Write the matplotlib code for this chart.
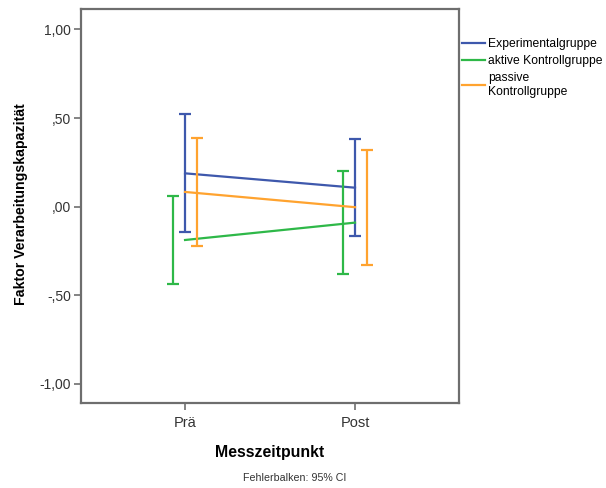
import matplotlib.pyplot as plt
from matplotlib.lines import Line2D

plt.rcParams['font.family'] = ['Liberation Sans', 'DejaVu Sans']

# Werte (Mittelwert und 95%-KI) je Gruppe und Messzeitpunkt
zeitpunkte = ['Prä', 'Post']
gruppen = ['Experimentalgruppe', 'aktive Kontrollgruppe', 'passive\nKontrollgruppe']
farben = ['#3e58ac', '#2eb848', '#ffa32f']

mittel_exp = [0.188, 0.107]
ci_unten_exp = [-0.144, -0.165]
ci_oben_exp = [0.524, 0.382]

mittel_aktiv = [-0.188, -0.090]
ci_unten_aktiv = [-0.438, -0.380]
ci_oben_aktiv = [0.061, 0.203]

mittel_passiv = [0.083, -0.003]
ci_unten_passiv = [-0.223, -0.327]
ci_oben_passiv = [0.389, 0.320]

y_ticks = [1.0, 0.5, 0.0, -0.5, -1.0]
y_ticklabels = ['1,00', ',50', ',00', '-,50', '-1,00']

mittel = [mittel_exp, mittel_aktiv, mittel_passiv]
ci_unten = [ci_unten_exp, ci_unten_aktiv, ci_unten_passiv]
ci_oben = [ci_oben_exp, ci_oben_aktiv, ci_oben_passiv]

fig = plt.figure(figsize=(6.06, 4.88), dpi=100)
ax = fig.add_axes([0.1337, 0.1736, 0.6238, 0.808])

x = list(range(len(zeitpunkte)))
versatz = [0.0, -0.073, 0.073]  # Fehlerbalken leicht nebeneinander

for i, gruppe in enumerate(gruppen):
    # Linie verbindet die Mittelwerte in der Kategoriemitte
    ax.plot(x, mittel[i], color=farben[i], linewidth=1.6, zorder=3)
    xs = [p + versatz[i] for p in x]
    err_unten = [m - u for m, u in zip(mittel[i], ci_unten[i])]
    err_oben = [o - m for m, o in zip(mittel[i], ci_oben[i])]
    ax.errorbar(xs, mittel[i], yerr=[err_unten, err_oben], fmt='none',
                ecolor=farben[i], elinewidth=1.6, capsize=4.3, capthick=1.6,
                zorder=3)

ax.set_xlim(-0.612, 1.612)
ax.set_ylim(-1.109, 1.115)
ax.set_xticks(x)
ax.set_xticklabels(zeitpunkte, fontsize=10.5, color='#333333')
ax.set_yticks(y_ticks)
ax.set_yticklabels(y_ticklabels, fontsize=10, color='#333333')

for s in ax.spines.values():
    s.set_color('#6e6e6e')
    s.set_linewidth(1.6)
ax.tick_params(direction='out', length=5, width=1.2, color='#6e6e6e', pad=2)
ax.tick_params(axis='x', pad=4)

ax.set_xlabel('Messzeitpunkt', fontsize=11.4, fontweight='bold')
ax.xaxis.set_label_coords(0.5, -0.105)
ax.set_ylabel('Faktor Verarbeitungskapazität', fontsize=10.2, fontweight='bold')
ax.yaxis.set_label_coords(-0.14, 0.505)

fig.text(0.487, 0.02, 'Fehlerbalken: 95% CI', fontsize=7.7, ha='center',
         va='center', color='#333333')

handles = [Line2D([], [], color=c, linewidth=1.6) for c in farben]
fig.legend(handles, gruppen, loc='upper left', bbox_to_anchor=(0.762, 0.922),
           frameon=False, fontsize=8.7, borderpad=0, handlelength=1.9,
           handletextpad=0.3, labelspacing=0.4, borderaxespad=0)

plt.savefig('out.png', dpi=100)
